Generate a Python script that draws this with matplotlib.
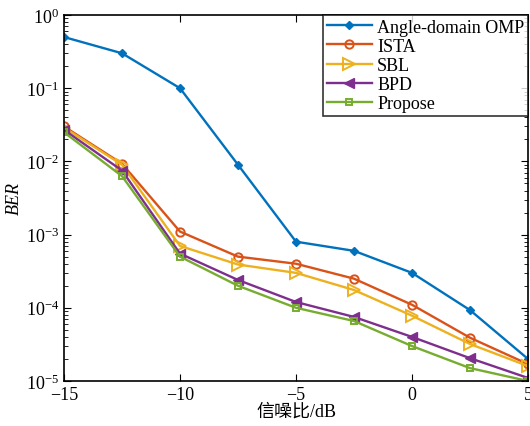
import matplotlib
matplotlib.use('Agg')
import matplotlib.pyplot as plt
import numpy as np

plt.rcParams['font.family'] = ['Liberation Serif', 'Noto Sans CJK SC', 'DejaVu Sans']
plt.rcParams['mathtext.fontset'] = 'stix'

# SNR points (dB)
snr = [-15, -12.5, -10, -7.5, -5, -2.5, 0, 2.5, 5]

# BER
ber_omp = [0.5, 0.3, 0.1, 0.009, 8e-4, 6e-4, 3e-4, 9.3e-5, 2e-5]
ber_ista = [0.03, 0.0093, 1.1e-3, 5e-4, 4e-4, 2.5e-4, 1.1e-4, 3.9e-5, 1.7e-5]
ber_sbl = [0.029, 0.009, 7e-4, 3.9e-4, 3e-4, 1.75e-4, 7.8e-5, 3.2e-5, 1.6e-5]
ber_bpd = [0.027, 0.0075, 5.5e-4, 2.4e-4, 1.2e-4, 7.5e-5, 4e-5, 2.05e-5, 1.1e-5]
ber_prop = [0.025, 0.0063, 5e-4, 2e-4, 1e-4, 6.6e-5, 3e-5, 1.5e-5, 1e-5]

labels = ['Angle-domain OMP', 'ISTA', 'SBL', 'BPD', 'Propose']

fig = plt.figure(figsize=(5.3, 4.27), dpi=100)
ax = fig.add_axes([64/530, 45/427, 464/530, 366/427])

lw = 1.7
ax.plot(snr, ber_omp, color='#0072BD', marker='D', ms=4, lw=lw, label=labels[0])
ax.plot(snr, ber_ista, color='#D95319', marker='o', ms=6, mfc='none', mew=1.4, lw=lw, label=labels[1])
ax.plot(snr, ber_sbl, color='#EDB120', marker='>', ms=8, mfc='none', mew=1.4, lw=lw, label=labels[2])
ax.plot(snr, ber_bpd, color='#7E2F8E', marker='<', ms=7, lw=lw, label=labels[3])
ax.plot(snr, ber_prop, color='#77AC30', marker='s', ms=5, mfc='none', mew=1.4, lw=lw, label=labels[4])

ax.set_yscale('log')
ax.set_xlim(-15, 5)
ax.set_ylim(1e-5, 1)
ax.set_xticks([-15, -10, -5, 0, 5])
ax.tick_params(which='both', direction='in', top=True, right=True, labelsize=13)
ax.tick_params(which='major', length=5)
ax.tick_params(which='minor', length=3)
for s in ax.spines.values():
    s.set_linewidth(1.2)

ax.set_xlabel('信噪比/dB', fontsize=13, labelpad=0)
ax.set_ylabel('BER', fontsize=13, style='italic', labelpad=2)

leg = ax.legend(loc='upper right', fontsize=13, frameon=True, fancybox=False,
                edgecolor='black', borderaxespad=0, handlelength=2.5,
                labelspacing=0.12, borderpad=0.2, handletextpad=0.3)
leg.get_frame().set_linewidth(1.2)

fig.savefig('out.png', dpi=100)
